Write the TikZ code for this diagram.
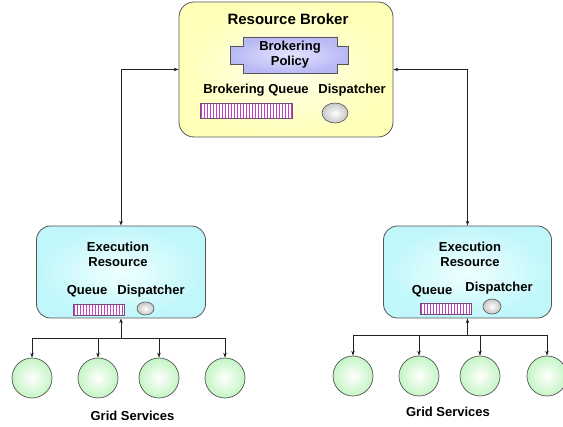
\documentclass[tikz,border=0pt]{standalone}
\usepackage{fontspec}
\setmainfont{Liberation Sans}
\usetikzlibrary{arrows.meta,shapes.geometric}
\definecolor{edgegray}{HTML}{555555}
\definecolor{brokerout}{HTML}{FFFFB8}
\definecolor{brokerin}{HTML}{FFFFEE}
\definecolor{execout}{HTML}{BFF7FA}
\definecolor{execin}{HTML}{F0FFFF}
\definecolor{greenout}{HTML}{C4F5C4}
\definecolor{lavout}{HTML}{B8B8F5}
\definecolor{lavin}{HTML}{E4E4FF}
\definecolor{stripe}{HTML}{C040C0}
\definecolor{stripeedge}{HTML}{7A4A7A}
\definecolor{linecol}{HTML}{222222}
\tikzset{
  brokerbox/.style={draw=edgegray, line width=0.8pt, rounded corners=15pt, inner color=brokerin, outer color=brokerout, inner sep=0pt},
  execbox/.style={draw=edgegray, line width=0.8pt, rounded corners=14pt, inner color=execin, outer color=execout, inner sep=0pt},
  gridsvc/.style={circle, draw=edgegray, line width=0.7pt, inner color=white, outer color=greenout, minimum size=40pt, inner sep=0pt},
  qbar/.style={draw=stripeedge, line width=0.6pt, fill=white, inner sep=0pt,
    path picture={\foreach \k in {0,...,40}{\draw[stripe, line width=1.1pt] ([xshift=\k*3pt+1.5pt]path picture bounding box.south west) -- ([xshift=\k*3pt+1.5pt]path picture bounding box.north west);}}},
  disp/.style={ellipse, draw=edgegray, line width=0.6pt, inner color=white, outer color=gray!45, inner sep=0pt},
  lbl/.style={font=\bfseries\fontsize{13}{15}\selectfont, inner sep=0pt, align=center},
  biglbl/.style={font=\bfseries\fontsize{15}{17}\selectfont, inner sep=0pt},
  link/.style={draw=linecol, line width=0.6pt},
  tip/.style={-{Stealth[length=5pt,width=3.5pt]}},
  tips/.style={{Stealth[length=5pt,width=3.5pt]}-{Stealth[length=5pt,width=3.5pt]}}
}
\begin{document}
\begin{tikzpicture}[x=1pt,y=-1pt]
\useasboundingbox (0,0) rectangle (563,427);
% Broker
\node[brokerbox, minimum width=214pt, minimum height=135pt] (broker) at (286,69.5) {};
\node[biglbl] (brtitle) at (288,19) {Resource Broker};
\draw[draw=edgegray, line width=0.7pt, inner color=lavin, outer color=lavout]
  (243,37) -- (337,37) -- (337,46) -- (348,46) -- (348,64) -- (337,64) -- (337,73)
  -- (243,73) -- (243,64) -- (230,64) -- (230,46) -- (243,46) -- cycle;
\node[lbl] (policy) at (290,55) {Brokering\\Policy};
\node[lbl] (bqlbl) at (256,90) {Brokering Queue};
\node[lbl] (bdlbl) at (352,90) {Dispatcher};
\node[qbar, minimum width=92pt, minimum height=15pt] (bq) at (246,110.5) {};
\node[disp, minimum width=26pt, minimum height=20pt] (bd) at (335,113) {};
% Execution resources
\node[execbox, minimum width=169pt, minimum height=92pt] (exL) at (121,272) {};
\node[lbl] (exLt) at (118,254) {Execution\\Resource};
\node[lbl] (exLq) at (87,291) {Queue};
\node[lbl] (exLd) at (151,291) {Dispatcher};
\node[qbar, minimum width=51pt, minimum height=11pt] (qL) at (98.5,309.5) {};
\node[disp, minimum width=17pt, minimum height=13pt] (dL) at (145.5,308.5) {};

\node[execbox, minimum width=168pt, minimum height=92pt] (exR) at (467.5,272) {};
\node[lbl] (exRt) at (470,254) {Execution\\Resource};
\node[lbl] (exRq) at (432,291) {Queue};
\node[lbl] (exRd) at (499,288) {Dispatcher};
\node[qbar, minimum width=51pt, minimum height=11pt] (qR) at (445.5,308.5) {};
\node[disp, minimum width=18pt, minimum height=15pt] (dR) at (492,306.5) {};
% links to broker
\draw[link, tips] (exL.north) |- (broker.west);
\draw[link, tips] (exR.north) |- (broker.east);
% Grid services left
\node[gridsvc] (gL1) at (32,378) {};
\node[gridsvc] (gL2) at (98,378) {};
\node[gridsvc] (gL3) at (159,378) {};
\node[gridsvc] (gL4) at (225,378) {};
\coordinate (jL) at (121,338);
\draw[link, tip] (jL) -- (exL.south);
\foreach \g in {gL1,gL2,gL3,gL4} \draw[link, tip] (jL) -| (\g.north);
\node[lbl] (gsL) at (132.5,416) {Grid Services};
% Grid services right
\node[gridsvc] (gR1) at (353,376) {};
\node[gridsvc] (gR2) at (419,376) {};
\node[gridsvc] (gR3) at (480,376) {};
\node[gridsvc] (gR4) at (547,376) {};
\coordinate (jR) at (467.5,335);
\draw[link, tip] (jR) -- (exR.south);
\foreach \g in {gR1,gR2,gR3,gR4} \draw[link, tip] (jR) -| (\g.north);
\node[lbl] (gsR) at (448,412) {Grid Services};
\end{tikzpicture}
\end{document}
